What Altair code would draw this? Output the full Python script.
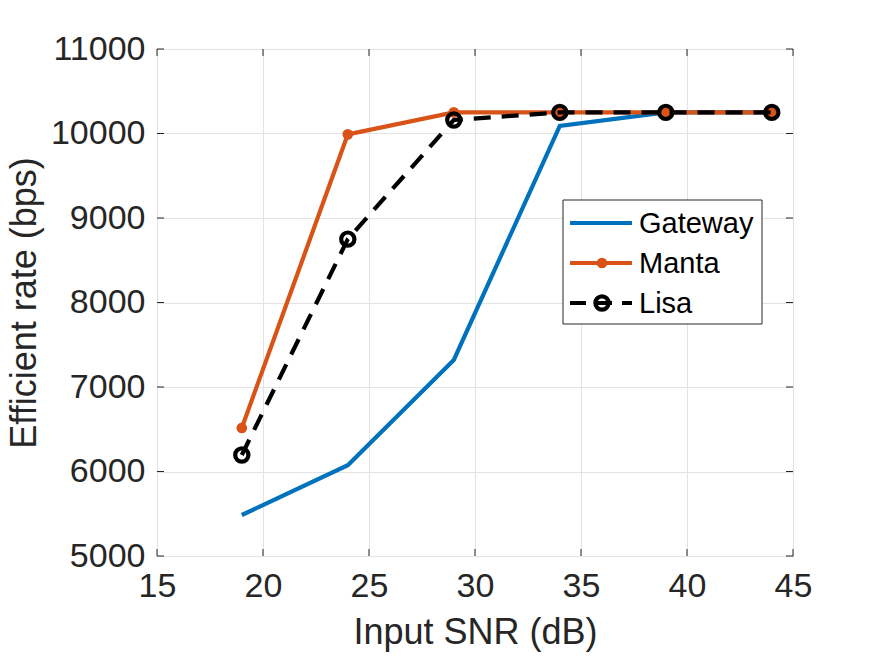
import altair as alt
import pandas as pd

# Input SNR sweep (dB) and efficient rate (bps) for each receiver
snr_db = [19, 24, 29, 34, 39, 44]
gateway_bps = [5485, 6075, 7320, 10090, 10250, 10250]
manta_bps = [6515, 9990, 10250, 10250, 10250, 10250]
lisa_bps = [6195, 8750, 10160, 10250, 10250, 10250]

x_ticks = [15, 20, 25, 30, 35, 40, 45]
y_ticks = [5000, 6000, 7000, 8000, 9000, 10000, 11000]

legend_names = ["Gateway", "Manta", "Lisa"]
colors = {"Gateway": "#0072BD", "Manta": "#D95319", "Lisa": "#000000"}

W, H = 636, 507
FONT = "Liberation Sans"
INK = "#262626"
LW = 4.2
DOT = 115
RING = 175

df = pd.DataFrame({
    "snr": snr_db * 3,
    "rate": gateway_bps + manta_bps + lisa_bps,
    "series": ["Gateway"] * 6 + ["Manta"] * 6 + ["Lisa"] * 6,
})

xs = alt.Scale(domain=[15, 45], nice=False)
ys = alt.Scale(domain=[5000, 11000], nice=False)

x_axis = alt.Axis(values=x_ticks, title="Input SNR (dB)", grid=True, ticks=False,
                  domain=False, labelPadding=13, titlePadding=12, labelFlush=False,
                  format="d")
y_axis = alt.Axis(values=y_ticks, title="Efficient rate (bps)", grid=True, ticks=False,
                  domain=False, labelPadding=12, titlePadding=7, labelFlush=False,
                  format="d")

base = alt.Chart(df).encode(
    x=alt.X("snr:Q", scale=xs, axis=x_axis),
    y=alt.Y("rate:Q", scale=ys, axis=y_axis),
)

gateway = base.transform_filter(alt.datum.series == "Gateway").mark_line(
    color=colors["Gateway"], strokeWidth=LW)
manta_line = base.transform_filter(alt.datum.series == "Manta").mark_line(
    color=colors["Manta"], strokeWidth=LW)
manta_pts = base.transform_filter(alt.datum.series == "Manta").mark_circle(
    color=colors["Manta"], size=DOT, opacity=1)
lisa_line = base.transform_filter(alt.datum.series == "Lisa").mark_line(
    color="black", strokeWidth=LW, strokeDash=[17, 11])
lisa_pts = base.transform_filter(alt.datum.series == "Lisa").mark_point(
    shape="circle", filled=False, color="black", size=RING, strokeWidth=LW, opacity=1)

# inward tick marks on all four sides of the box
xt = alt.Chart(pd.DataFrame({"v": x_ticks}))
yt = alt.Chart(pd.DataFrame({"v": y_ticks}))
tick_style = dict(color=INK, strokeWidth=1)
ticks = [
    xt.mark_rule(**tick_style).encode(x=alt.X("v:Q", scale=xs), y=alt.value(H), y2=alt.value(H - 7)),
    xt.mark_rule(**tick_style).encode(x=alt.X("v:Q", scale=xs), y=alt.value(0), y2=alt.value(7)),
    yt.mark_rule(**tick_style).encode(y=alt.Y("v:Q", scale=ys), x=alt.value(0), x2=alt.value(7)),
    yt.mark_rule(**tick_style).encode(y=alt.Y("v:Q", scale=ys), x=alt.value(W), x2=alt.value(W - 7)),
]

# legend box
one = alt.Chart(pd.DataFrame({"k": [0]}))
leg_box = one.mark_rect(fill="white", stroke=INK, strokeWidth=1).encode(
    x=alt.value(406), x2=alt.value(605), y=alt.value(151), y2=alt.value(275))
row_y = [174, 214, 254]
lx0, lx1, lxm, ltx = 413, 475, 445, 482
leg = [leg_box]
leg.append(one.mark_rule(color=colors["Gateway"], strokeWidth=LW).encode(
    x=alt.value(lx0), x2=alt.value(lx1), y=alt.value(row_y[0])))
leg.append(one.mark_rule(color=colors["Manta"], strokeWidth=LW).encode(
    x=alt.value(lx0), x2=alt.value(lx1), y=alt.value(row_y[1])))
leg.append(one.mark_circle(color=colors["Manta"], size=DOT, opacity=1).encode(
    x=alt.value(lxm), y=alt.value(row_y[1])))
leg.append(one.mark_rule(color="black", strokeWidth=LW, strokeDash=[16, 10]).encode(
    x=alt.value(lx0), x2=alt.value(lx1), y=alt.value(row_y[2])))
leg.append(one.mark_point(shape="circle", filled=False, color="black", size=RING,
                          strokeWidth=LW, opacity=1).encode(
    x=alt.value(lxm), y=alt.value(row_y[2])))
for name, yy in zip(legend_names, row_y):
    leg.append(one.mark_text(text=name, align="left", baseline="middle", font=FONT,
                             fontSize=29, color="black").encode(
        x=alt.value(ltx), y=alt.value(yy + 1)))

chart = alt.layer(
    gateway, manta_line, manta_pts, lisa_line, lisa_pts, *ticks, *leg
).properties(
    width=W, height=H,
    autosize=alt.AutoSizeParams(type="none"),
    padding={"left": 157, "top": 49, "right": 82, "bottom": 101},
    background="white",
).configure_view(
    stroke=INK, strokeWidth=1
).configure_axis(
    labelFont=FONT, titleFont=FONT, labelFontSize=34, titleFontSize=36,
    labelColor=INK, titleColor=INK, titleFontWeight="normal",
    gridColor="#e3e3e3", gridWidth=1,
)

chart.save("out.html", embed_options={"renderer": "svg", "actions": False})
